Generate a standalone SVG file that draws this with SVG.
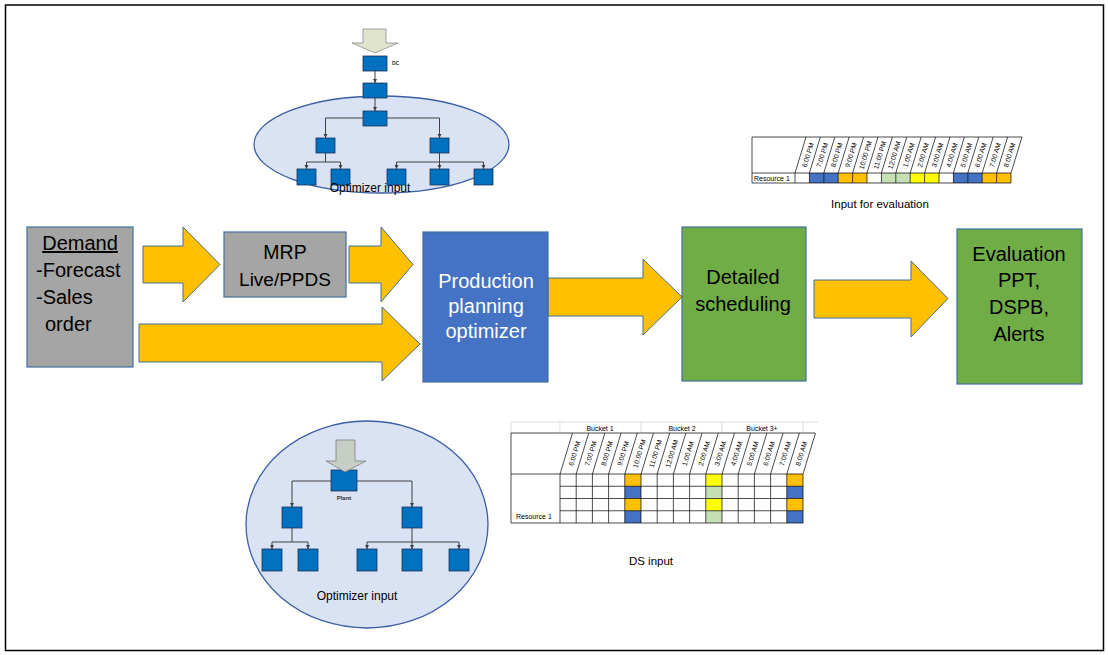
<svg xmlns="http://www.w3.org/2000/svg" width="1108" height="655" viewBox="0 0 1108 655">
<style>
.t{font-family:"Liberation Sans",Arial,sans-serif;fill:#000}
.big{font-size:20px}
.box{stroke:#41719c;stroke-width:1.2}
.arr{fill:#ffc000;stroke:#41719c;stroke-width:1}
.nd{fill:#0070c0;stroke:#1f3358;stroke-width:0.8}
.cn{fill:none;stroke:#404040;stroke-width:1}
.ell{fill:#dae3f3;stroke:#3b5ea5;stroke-width:1.3}
.g{stroke:#000;stroke-width:0.7;fill:none}
.lg{stroke:#d0d0d0;stroke-width:0.7;fill:none}
.sm{font-family:"Liberation Sans",Arial,sans-serif;font-size:7px;fill:#000}
.hd{font-family:"Liberation Sans",Arial,sans-serif;font-size:6.8px;fill:#000;text-anchor:middle;dominant-baseline:central}
.cb{fill:#4472c4}.co{fill:#ffc000}.cg{fill:#c5e0b4}.cy{fill:#ffff00}
</style>
<defs>
<marker id="ah" markerUnits="userSpaceOnUse" markerWidth="5" markerHeight="5" refX="4" refY="2" orient="auto">
<path d="M0,0 L4,2 L0,4 z" fill="#404040"/>
</marker>
</defs>
<rect x="0" y="0" width="1108" height="655" fill="#fff"/>
<rect x="5.5" y="5" width="1098" height="645.5" fill="none" stroke="#000" stroke-width="1.5"/>

<!-- connectors: big flow arrows -->
<g id="connectors">
<polygon class="arr" points="143,246 183,246 183,227 220,264.5 183,302 183,283 143,283"/>
<polygon class="arr" points="349,246 381,246 381,227 413,264.5 381,302 381,283 349,283"/>
<polygon class="arr" points="139,324 382,324 382,307 420,344 382,381 382,362 139,362"/>
<polygon class="arr" points="548,278 643,278 643,259 682,297 643,335 643,316 548,316"/>
<polygon class="arr" points="814,280 911,280 911,261 948,298.5 911,337 911,318 814,318"/>
</g>

<g id="demand">
<rect class="box" x="27" y="227" width="106" height="140" fill="#a5a5a5"/>
<text class="t big" x="80" y="250" text-anchor="middle" text-decoration="underline">Demand</text>
<text class="t big" x="36" y="277">-Forecast</text>
<text class="t big" x="36" y="304">-Sales</text>
<text class="t big" x="45" y="331">order</text>
</g>

<g id="mrp">
<rect class="box" x="224" y="232" width="122" height="65" fill="#a5a5a5"/>
<text class="t" font-size="19.5" x="285" y="259" text-anchor="middle">MRP</text>
<text class="t" font-size="19" x="285" y="286" text-anchor="middle">Live/PPDS</text>
</g>

<g id="ppo">
<rect class="box" x="423" y="232" width="125" height="150" fill="#4472c4"/>
<text class="t big" x="486" y="288" text-anchor="middle" style="fill:#fff">Production</text>
<text class="t big" x="486" y="313" text-anchor="middle" style="fill:#fff">planning</text>
<text class="t big" x="486" y="338" text-anchor="middle" style="fill:#fff">optimizer</text>
</g>

<g id="ds">
<rect class="box" x="682" y="227" width="124" height="154" fill="#70ad47"/>
<text class="t big" x="743" y="284" text-anchor="middle">Detailed</text>
<text class="t big" x="743" y="311" text-anchor="middle">scheduling</text>
</g>

<g id="evaluation">
<rect class="box" x="957" y="229" width="125" height="155" fill="#70ad47"/>
<text class="t big" x="1019" y="261" text-anchor="middle">Evaluation</text>
<text class="t big" x="1019" y="287" text-anchor="middle">PPT,</text>
<text class="t big" x="1019" y="314" text-anchor="middle">DSPB,</text>
<text class="t big" x="1019" y="341" text-anchor="middle">Alerts</text>
</g>

<!-- top optimizer input tree -->
<g id="top-tree">
<ellipse class="ell" cx="381.5" cy="144.5" rx="127.5" ry="48.5"/>
<polygon points="363,29 386,29 386,43 398,43 375,53 352,43 363,43" fill="#e0e4cd" stroke="#8c8c8c" stroke-width="0.8"/>
<path class="cn" marker-end="url(#ah)" d="M375 71 V83"/>
<path class="cn" marker-end="url(#ah)" d="M375 98 V111"/>
<path class="cn" marker-end="url(#ah)" d="M363 118 H325.5 V138"/>
<path class="cn" marker-end="url(#ah)" d="M387 118 H439.5 V138"/>
<path class="cn" d="M325.5 153 V162 M306.5 162 H340.5 M396.5 162 H483.5 M439.5 153 V162"/>
<path class="cn" marker-end="url(#ah)" d="M306.5 162 V169"/>
<path class="cn" marker-end="url(#ah)" d="M340.5 162 V169"/>
<path class="cn" marker-end="url(#ah)" d="M396.5 162 V169"/>
<path class="cn" marker-end="url(#ah)" d="M439.5 162 V169"/>
<path class="cn" marker-end="url(#ah)" d="M483.5 162 V169"/>
<rect class="nd" x="363" y="56" width="24" height="15"/>
<rect class="nd" x="363" y="83" width="24" height="15"/>
<rect class="nd" x="363" y="111" width="24" height="15"/>
<rect class="nd" x="316" y="138" width="19" height="15"/>
<rect class="nd" x="430" y="138" width="19" height="15"/>
<rect class="nd" x="297" y="169" width="19" height="16"/>
<rect class="nd" x="331" y="169" width="19" height="16"/>
<rect class="nd" x="387" y="169" width="19" height="16"/>
<rect class="nd" x="430" y="169" width="19" height="16"/>
<rect class="nd" x="474" y="169" width="19" height="16"/>
<text x="392" y="65" font-family="'Liberation Sans',Arial,sans-serif" font-size="5" font-weight="bold" fill="#333">DC</text>
<text class="t" x="370" y="192" font-size="12" text-anchor="middle">Optimizer input</text>
</g>

<!-- bottom optimizer input tree -->
<g id="bottom-tree">
<ellipse class="ell" cx="367" cy="524.5" rx="121" ry="103.5"/>
<path class="cn" marker-end="url(#ah)" d="M331 481 H292 V507"/>
<path class="cn" marker-end="url(#ah)" d="M357 481 H412 V507"/>
<path class="cn" d="M292 528 V542 M272 542 H308 M367 542 H459 M412 528 V542"/>
<path class="cn" marker-end="url(#ah)" d="M272 542 V549"/>
<path class="cn" marker-end="url(#ah)" d="M308 542 V549"/>
<path class="cn" marker-end="url(#ah)" d="M367 542 V549"/>
<path class="cn" marker-end="url(#ah)" d="M412 542 V549"/>
<path class="cn" marker-end="url(#ah)" d="M459 542 V549"/>
<rect class="nd" x="331" y="470" width="26" height="21"/>
<rect class="nd" x="282" y="507" width="20" height="21"/>
<rect class="nd" x="402" y="507" width="20" height="21"/>
<rect class="nd" x="262" y="549" width="20" height="22"/>
<rect class="nd" x="298" y="549" width="20" height="22"/>
<rect class="nd" x="357" y="549" width="20" height="22"/>
<rect class="nd" x="402" y="549" width="20" height="22"/>
<rect class="nd" x="449" y="549" width="20" height="22"/>
<polygon points="336,440 355,440 355,461 366,461 345,472 326,461 336,461" fill="#c6cec5" stroke="#7f7f7f" stroke-width="0.8"/>
<text x="344" y="500" font-family="'Liberation Sans',Arial,sans-serif" font-size="6" font-weight="bold" fill="#333" text-anchor="middle">Plant</text>
<text class="t" x="357" y="600" font-size="12" text-anchor="middle">Optimizer input</text>
</g>

<!-- input for evaluation table -->
<g id="eval-table">
<rect class="cb" x="809.4" y="173" width="14.4" height="10"/>
<rect class="cb" x="823.8" y="173" width="14.4" height="10"/>
<rect class="co" x="838.2" y="173" width="14.4" height="10"/>
<rect class="co" x="852.6" y="173" width="14.4" height="10"/>
<rect class="cg" x="881.4" y="173" width="14.4" height="10"/>
<rect class="cg" x="895.8" y="173" width="14.4" height="10"/>
<rect class="cy" x="910.2" y="173" width="14.4" height="10"/>
<rect class="cy" x="924.6" y="173" width="14.4" height="10"/>
<rect class="cb" x="953.4" y="173" width="14.4" height="10"/>
<rect class="cb" x="967.8" y="173" width="14.4" height="10"/>
<rect class="co" x="982.2" y="173" width="14.4" height="10"/>
<rect class="co" x="996.6" y="173" width="14.4" height="10"/>
<path class="g" d="M752 137 H1022 M752 137 V183 M752 173 H1011 M752 183 H1011"/>
<path class="g" d="M795 173 L806 137 M809.4 173 L820.4 137 M823.8 173 L834.8 137 M838.2 173 L849.2 137 M852.6 173 L863.6 137 M867 173 L878 137 M881.4 173 L892.4 137 M895.8 173 L906.8 137 M910.2 173 L921.2 137 M924.6 173 L935.6 137 M939 173 L950 137 M953.4 173 L964.4 137 M967.8 173 L978.8 137 M982.2 173 L993.2 137 M996.6 173 L1007.6 137 M1011 173 L1022 137"/>
<path class="g" d="M795 173 V183 M809.4 173 V183 M823.8 173 V183 M838.2 173 V183 M852.6 173 V183 M867 173 V183 M881.4 173 V183 M895.8 173 V183 M910.2 173 V183 M924.6 173 V183 M939 173 V183 M953.4 173 V183 M967.8 173 V183 M982.2 173 V183 M996.6 173 V183 M1011 173 V183"/>
<text class="hd" transform="translate(807.7 155) rotate(-73)">6:00 PM</text>
<text class="hd" transform="translate(822.1 155) rotate(-73)">7:00 PM</text>
<text class="hd" transform="translate(836.5 155) rotate(-73)">8:00 PM</text>
<text class="hd" transform="translate(850.9 155) rotate(-73)">9:00 PM</text>
<text class="hd" transform="translate(865.3 155) rotate(-73)">10:00 PM</text>
<text class="hd" transform="translate(879.7 155) rotate(-73)">11:00 PM</text>
<text class="hd" transform="translate(894.1 155) rotate(-73)">12:00 AM</text>
<text class="hd" transform="translate(908.5 155) rotate(-73)">1:00 AM</text>
<text class="hd" transform="translate(922.9 155) rotate(-73)">2:00 AM</text>
<text class="hd" transform="translate(937.3 155) rotate(-73)">3:00 AM</text>
<text class="hd" transform="translate(951.7 155) rotate(-73)">4:00 AM</text>
<text class="hd" transform="translate(966.1 155) rotate(-73)">5:00 AM</text>
<text class="hd" transform="translate(980.5 155) rotate(-73)">6:00 AM</text>
<text class="hd" transform="translate(994.9 155) rotate(-73)">7:00 AM</text>
<text class="hd" transform="translate(1009.3 155) rotate(-73)">8:00 AM</text>
<text class="sm" x="754" y="181">Resource 1</text>
<text class="t" x="880" y="208" font-size="11.5" text-anchor="middle">Input for evaluation</text>
</g>

<!-- DS input table -->
<g id="ds-table">
<rect class="co" x="624.8" y="474" width="16.2" height="12.25"/>
<rect class="cb" x="624.8" y="486.25" width="16.2" height="12.25"/>
<rect class="co" x="624.8" y="498.5" width="16.2" height="12.25"/>
<rect class="cb" x="624.8" y="510.75" width="16.2" height="12.25"/>
<rect class="cy" x="705.8" y="474" width="16.2" height="12.25"/>
<rect class="cg" x="705.8" y="486.25" width="16.2" height="12.25"/>
<rect class="cy" x="705.8" y="498.5" width="16.2" height="12.25"/>
<rect class="cg" x="705.8" y="510.75" width="16.2" height="12.25"/>
<rect class="co" x="786.8" y="474" width="16.2" height="12.25"/>
<rect class="cb" x="786.8" y="486.25" width="16.2" height="12.25"/>
<rect class="co" x="786.8" y="498.5" width="16.2" height="12.25"/>
<rect class="cb" x="786.8" y="510.75" width="16.2" height="12.25"/>
<path class="lg" d="M511 422 H818 M511 422 V433 M560 422 V433 M641 422 V433 M722 422 V433 M803 422 V433"/>
<path class="g" d="M511 433 H815 M511 433 V523 M511 474 H803 M560 486.25 H803 M560 498.5 H803 M560 510.75 H803 M511 523 H803"/>
<path class="g" d="M560 474 L572.5 433 M576.2 474 L588.7 433 M592.4 474 L604.9 433 M608.6 474 L621.1 433 M624.8 474 L637.3 433 M641 474 L653.5 433 M657.2 474 L669.7 433 M673.4 474 L685.9 433 M689.6 474 L702.1 433 M705.8 474 L718.3 433 M722 474 L734.5 433 M738.2 474 L750.7 433 M754.4 474 L766.9 433 M770.6 474 L783.1 433 M786.8 474 L799.3 433 M803 474 L815.5 433"/>
<path class="g" d="M560 474 V523 M576.2 474 V523 M592.4 474 V523 M608.6 474 V523 M624.8 474 V523 M641 474 V523 M657.2 474 V523 M673.4 474 V523 M689.6 474 V523 M705.8 474 V523 M722 474 V523 M738.2 474 V523 M754.4 474 V523 M770.6 474 V523 M786.8 474 V523 M803 474 V523"/>
<text class="sm" x="600" y="431" font-size="7.5" text-anchor="middle">Bucket 1</text>
<text class="sm" x="682" y="431" font-size="7.5" text-anchor="middle">Bucket 2</text>
<text class="sm" x="762" y="431" font-size="7.5" text-anchor="middle">Bucket 3+</text>
<text class="hd" font-size="7.2" transform="translate(574.4 453.5) rotate(-73)">6:00 PM</text>
<text class="hd" font-size="7.2" transform="translate(590.6 453.5) rotate(-73)">7:00 PM</text>
<text class="hd" font-size="7.2" transform="translate(606.8 453.5) rotate(-73)">8:00 PM</text>
<text class="hd" font-size="7.2" transform="translate(623 453.5) rotate(-73)">9:00 PM</text>
<text class="hd" font-size="7.2" transform="translate(639.2 453.5) rotate(-73)">10:00 PM</text>
<text class="hd" font-size="7.2" transform="translate(655.4 453.5) rotate(-73)">11:00 PM</text>
<text class="hd" font-size="7.2" transform="translate(671.6 453.5) rotate(-73)">12:00 AM</text>
<text class="hd" font-size="7.2" transform="translate(687.8 453.5) rotate(-73)">1:00 AM</text>
<text class="hd" font-size="7.2" transform="translate(704 453.5) rotate(-73)">2:00 AM</text>
<text class="hd" font-size="7.2" transform="translate(720.2 453.5) rotate(-73)">3:00 AM</text>
<text class="hd" font-size="7.2" transform="translate(736.4 453.5) rotate(-73)">4:00 AM</text>
<text class="hd" font-size="7.2" transform="translate(752.6 453.5) rotate(-73)">5:00 AM</text>
<text class="hd" font-size="7.2" transform="translate(768.8 453.5) rotate(-73)">6:00 AM</text>
<text class="hd" font-size="7.2" transform="translate(785 453.5) rotate(-73)">7:00 AM</text>
<text class="hd" font-size="7.2" transform="translate(801.2 453.5) rotate(-73)">8:00 AM</text>
<text class="sm" x="516" y="519" font-size="7.5">Resource 1</text>
<text class="t" x="651" y="565" font-size="11.5" text-anchor="middle">DS input</text>
</g>
</svg>
